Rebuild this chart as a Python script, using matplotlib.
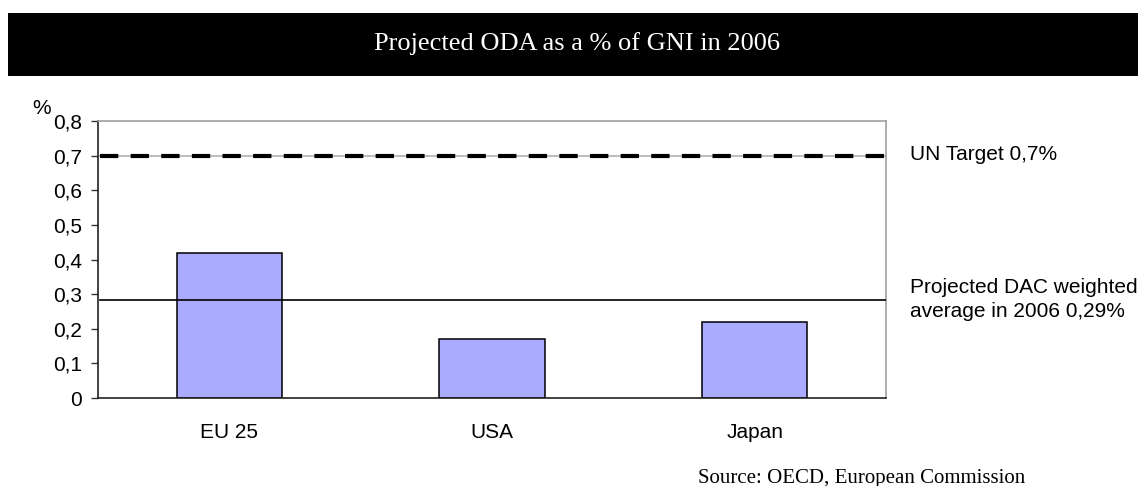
import matplotlib
matplotlib.use("Agg")
import matplotlib.pyplot as plt
from matplotlib.patches import Rectangle

categories = ["EU 25", "USA", "Japan"]
values = [0.42, 0.17, 0.22]
un_target = 0.7
dac_average = 0.284
yticks = [0, 0.1, 0.2, 0.3, 0.4, 0.5, 0.6, 0.7, 0.8]
ytick_labels = ["0", "0,1", "0,2", "0,3", "0,4", "0,5", "0,6", "0,7", "0,8"]
title = "Projected ODA as a % of GNI in 2006"
un_label = "UN Target 0,7%"
dac_label_1 = "Projected DAC weighted"
dac_label_2 = "average in 2006 0,29%"
source = "Source: OECD, European Commission"

W, H = 1138, 486
fig = plt.figure(figsize=(W / 100, H / 100), dpi=100)
sans = "Liberation Sans"
serif = "Liberation Serif"
fs = 15

# Title banner
fig.patches.append(Rectangle((8 / W, 1 - 76 / H), 1 - 8 / W, 63 / H,
                             transform=fig.transFigure, facecolor="black",
                             edgecolor="none", zorder=0))
fig.text(577 / W, 1 - 44 / H, title, color="white", family=serif,
         fontsize=19, ha="center", va="center")

ax = fig.add_axes([98 / W, 1 - 398 / H, (886 - 98) / W, (398 - 121) / H])
x = list(range(len(categories)))
ax.bar(x, values, width=0.4, color="#aaaaff", edgecolor="black",
       linewidth=1.1, zorder=2)
ax.set_xlim(-0.5, len(categories) - 0.5)
ax.set_ylim(0, 0.8)
ax.set_yticks(yticks)
ax.set_yticklabels(ytick_labels, family=sans, fontsize=fs)
ax.set_xticks(x)
ax.set_xticklabels(categories, family=sans, fontsize=fs)
ax.tick_params(axis="x", length=0, pad=18)
ax.tick_params(axis="y", length=5, width=1, color="#333333", pad=6.5)

for s in ["top", "right"]:
    ax.spines[s].set_color("#a0a0a0")
    ax.spines[s].set_linewidth(1.2)
for s in ["left", "bottom"]:
    ax.spines[s].set_color("#222222")
    ax.spines[s].set_linewidth(1.2)

ax.axhline(un_target, color="#b0b0b0", linewidth=1.2, zorder=1)
ax.axhline(dac_average, color="black", linewidth=1.2, zorder=3,
           xmin=0.003)
ax.axhline(un_target, color="black", linewidth=3.0, zorder=4,
           dashes=(4.4, 2.95), xmin=0.003)

fig.text(32 / W, 1 - 108 / H, "%", family=sans, fontsize=fs,
         ha="left", va="center")

fig.text(910 / W, 1 - 155 / H, un_label, family=sans, fontsize=fs,
         ha="left", va="center")
fig.text(910 / W, 1 - 287 / H, dac_label_1, family=sans, fontsize=fs,
         ha="left", va="center")
fig.text(910 / W, 1 - 311 / H, dac_label_2, family=sans, fontsize=fs,
         ha="left", va="center")

fig.text(698 / W, 1 - 478 / H, source, family=serif, fontsize=15,
         ha="left", va="center")

fig.savefig("out.png", dpi=100)
